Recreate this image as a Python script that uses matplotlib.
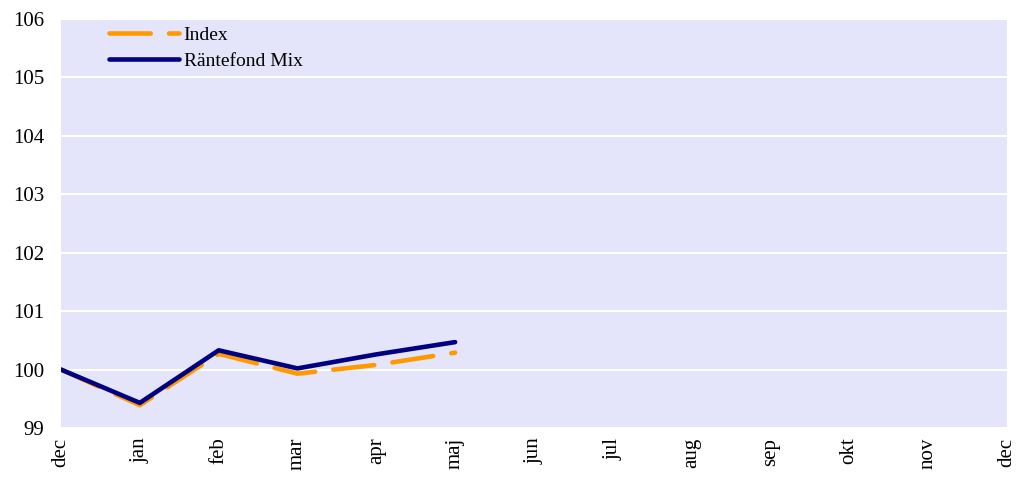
import matplotlib
matplotlib.use("Agg")
import matplotlib.pyplot as plt

months = ["dec", "jan", "feb", "mar", "apr", "maj", "jun", "jul",
          "aug", "sep", "okt", "nov", "dec"]
index_values = [100.0, 99.39, 100.27, 99.93, 100.08, 100.29]
fund_values = [100.0, 99.43, 100.33, 100.02, 100.26, 100.47]
y_ticks = [99, 100, 101, 102, 103, 104, 105, 106]

plt.rcParams["font.family"] = ["Liberation Serif", "DejaVu Serif"]

fig = plt.figure(figsize=(10.17, 4.78), dpi=100)
ax = fig.add_axes([0.06, 0.1046, 0.930, 0.8556])
ax.set_facecolor("#e4e4fa")

x = list(range(len(index_values)))
ax.plot(x, index_values, color="#ff9900", lw=3.3, dashes=(9, 4),
        dash_capstyle="round", solid_capstyle="round", label="Index", zorder=3)
ax.plot(x, fund_values, color="#000080", lw=3.3, solid_capstyle="round",
        label="Räntefond Mix", zorder=4)

ax.set_xlim(0, len(months) - 1)
ax.set_ylim(99, 106)
ax.set_xticks(range(len(months)))
ax.set_xticklabels(months, rotation=90, fontsize=15)
ax.set_yticks(y_ticks)
ax.set_yticklabels([str(v) for v in y_ticks], fontsize=15)
ax.tick_params(axis="x", length=0, pad=7)
ax.tick_params(axis="y", length=0, pad=12)
ax.grid(axis="y", color="white", lw=1.5)
ax.set_axisbelow(True)
for s in ax.spines.values():
    s.set_visible(False)

leg = ax.legend(loc="upper left", bbox_to_anchor=(0.032, 1.025), frameon=False,
                fontsize=14, handlelength=3.6, handletextpad=0.25,
                labelspacing=0.45)

fig.savefig("out.png", dpi=100)
